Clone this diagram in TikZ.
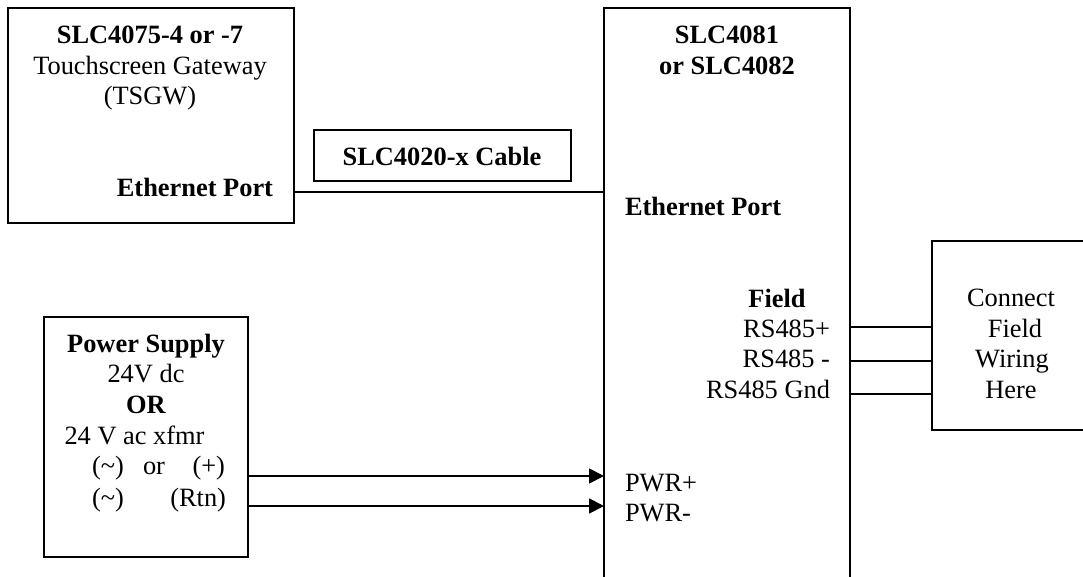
\documentclass[tikz,border=0pt]{standalone}
\usepackage{fontspec}
\setmainfont{Liberation Serif}
\usetikzlibrary{arrows.meta}
\tikzset{
  x=1pt,y=-1pt,
  box/.style={draw=black,line width=1.8pt,rectangle,inner sep=0pt,outer sep=0pt},
  wire/.style={draw=black,line width=1.8pt},
  feed/.style={draw=black,line width=1.8pt,-{Triangle[length=15pt,width=15pt]}},
  txt/.style={inner sep=0pt,outer sep=0pt,font=\fontsize{26.4}{30.6}\selectfont},
  btxt/.style={inner sep=0pt,outer sep=0pt,font=\fontsize{26.4}{30.6}\selectfont\bfseries},
  mid/.style={txt,anchor=base},
  lft/.style={txt,anchor=base west},
  rgt/.style={txt,anchor=base east},
  bmid/.style={btxt,anchor=base},
  blft/.style={btxt,anchor=base west},
  brgt/.style={btxt,anchor=base east},
}
\begin{document}
\begin{tikzpicture}
\path[use as bounding box] (0,0) rectangle (1083,577);
\clip (0,0) rectangle (1083,577);
\fill[white] (0,0) rectangle (1083,577);
% boxes
\node[box,minimum width=286pt,minimum height=215pt] (tsgw) at (151,115.5) {};
\node[box,minimum width=257pt,minimum height=51pt] (cable) at (442.5,155.5) {};
\node[box,minimum width=246pt,minimum height=600pt] (main) at (727,308) {};
\node[box,minimum width=204pt,minimum height=240pt] (power) at (146,437) {};
\node[box,minimum width=180pt,minimum height=189pt] (field) at (1022,335.5) {};
% texts
\node[bmid] (t1) at (150,44) {SLC4075-4 or -7};
\node[mid] (t2) at (150,75) {Touchscreen Gateway};
\node[mid] (t3) at (150,105) {(TSGW)};
\node[brgt] (t4) at (273,197) {Ethernet Port};
\node[bmid] (t5) at (442,166) {SLC4020-x Cable};
\node[bmid] (t6) at (727,44) {SLC4081};
\node[bmid] (t7) at (727,75) {or SLC4082};
\node[blft] (t8) at (625,215) {Ethernet Port};
\node[bmid] (t9) at (777,307) {Field};
\node[rgt] (t10) at (830,337) {RS485+};
\node[rgt] (t11) at (830,367) {RS485 -};
\node[rgt] (t12) at (830,398) {RS485 Gnd};
\node[mid] (t13) at (1011,306) {Connect};
\node[mid] (t14) at (1015,337) {Field};
\node[mid] (t15) at (1012,367) {Wiring};
\node[mid] (t16) at (1011,398) {Here};
\node[lft] (t17) at (625,491) {PWR+};
\node[lft] (t18) at (625,521) {PWR-};
\node[bmid] (t19) at (146,352) {Power Supply};
\node[mid] (t20) at (146,382) {24V dc};
\node[bmid] (t21) at (146,413) {OR};
\node[lft] (t22) at (64.5,444) {24 V ac xfmr};
\node[lft] (t23) at (92,474) {(\textasciitilde)};
\node[lft] (t24) at (143,474) {or};
\node[rgt] (t25) at (225,474) {(+)};
\node[lft] (t26) at (92,506) {(\textasciitilde)};
\node[rgt] (t27) at (226,506) {(Rtn)};
% connectors
\draw[wire] (tsgw.east |- 0,192) -- (main.west |- 0,192);
\draw[feed] (power.east |- 0,476) -- (main.west |- 0,476);
\draw[feed] (power.east |- 0,506) -- (main.west |- 0,506);
\draw[wire] (main.east |- 0,327) -- (field.west |- 0,327);
\draw[wire] (main.east |- 0,361) -- (field.west |- 0,361);
\draw[wire] (main.east |- 0,394) -- (field.west |- 0,394);
\end{tikzpicture}
\end{document}
